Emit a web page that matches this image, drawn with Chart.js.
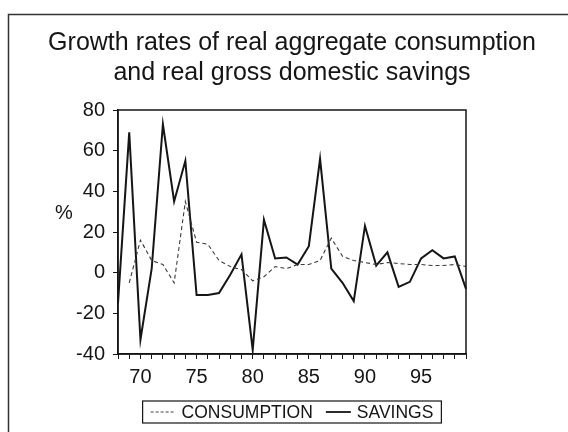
<!DOCTYPE html>
<html>
<head>
<meta charset="utf-8">
<script src="https://cdn.jsdelivr.net/npm/chart.js@4/dist/chart.umd.min.js"></script>
<style>
  html, body { margin: 0; padding: 0; background: #ffffff; }
  #wrap { position: relative; width: 568px; height: 432px; }
</style>
</head>
<body>
<div id="wrap"><canvas id="chart" width="568" height="432"></canvas></div>
<script>
// Years 1968-1999, shown as two-digit labels
const years = ['68','69','70','71','72','73','74','75','76','77','78','79','80','81','82','83',
               '84','85','86','87','88','89','90','91','92','93','94','95','96','97','98','99'];
// Growth rate of real aggregate consumption, % (no value for 1968)
const consumption = [null, -5, 16, 6, 4, -5, 35, 15, 14, 6, 3, 1.5, -4, -2, 3, 2,
                     4, 4, 6, 17, 8, 6, 5, 4, 5, 4.5, 4, 4, 3.5, 3.5, 4, 3];
// Growth rate of real gross domestic savings, %
const savings = [-15, 69, -33, 2, 73, 35, 55, -11, -11, -10, -1, 9, -38, 26, 7, 7.5,
                 4, 13, 56, 2, -5, -14, 23, 3.5, 10, -7, -4.5, 7, 11, 7, 8, -8];
// Labelled x ticks
const xTickLabels = ['70', '75', '80', '85', '90', '95'];
const titleLines = ['Growth rates of real aggregate consumption', 'and real gross domestic savings'];
const seriesNames = ['CONSUMPTION', 'SAVINGS'];

const FONT = "'Liberation Sans', Arial, sans-serif";
const INK = '#151515';

// Outer panel frame, plot box, "%" unit label and the boxed legend
const decorations = {
  id: 'decorations',
  afterDraw(chart) {
    const ctx = chart.ctx;
    const a = chart.chartArea;
    ctx.save();
    // outer frame (left and top edges visible)
    ctx.strokeStyle = '#333';
    ctx.lineWidth = 1.5;
    ctx.beginPath();
    ctx.moveTo(8.5, 440);
    ctx.lineTo(8.5, 14.5);
    ctx.lineTo(575, 14.5);
    ctx.stroke();
    // plot box
    ctx.strokeStyle = INK;
    ctx.lineWidth = 1.5;
    ctx.strokeRect(a.left, a.top, a.right - a.left, a.bottom - a.top);
    // unit label
    ctx.fillStyle = INK;
    ctx.font = '20px ' + FONT;
    ctx.textAlign = 'center';
    ctx.textBaseline = 'middle';
    ctx.fillText('%', 64, 213);
    // legend
    ctx.font = '17.5px ' + FONT;
    ctx.textAlign = 'left';
    const ds = chart.data.datasets;
    const w1 = ctx.measureText(ds[0].label).width;
    const w2 = ctx.measureText(ds[1].label).width;
    const sample = 25, gapText = 6, gapItem = 13, pad = 8;
    const content = sample + gapText + w1 + gapItem + sample + gapText + w2;
    const cx = (a.left + a.right) / 2;
    const boxL = cx - content / 2 - pad;
    const boxW = content + pad * 2;
    const boxT = 401, boxH = 22, midY = boxT + boxH / 2;
    ctx.strokeStyle = INK;
    ctx.lineWidth = 1.2;
    ctx.strokeRect(boxL, boxT, boxW, boxH);
    let x = boxL + pad;
    ctx.setLineDash([3, 2]);
    ctx.lineWidth = 1;
    ctx.strokeStyle = '#444';
    ctx.beginPath(); ctx.moveTo(x, midY); ctx.lineTo(x + sample, midY); ctx.stroke();
    ctx.setLineDash([]);
    x += sample + gapText;
    ctx.fillText(ds[0].label, x, midY + 1);
    x += w1 + gapItem;
    ctx.lineWidth = 1.8;
    ctx.strokeStyle = INK;
    ctx.beginPath(); ctx.moveTo(x, midY); ctx.lineTo(x + sample, midY); ctx.stroke();
    x += sample + gapText;
    ctx.fillText(ds[1].label, x, midY + 1);
    ctx.restore();
  }
};

new Chart(document.getElementById('chart'), {
  type: 'line',
  data: {
    labels: years,
    datasets: [
      {
        label: seriesNames[0],
        data: consumption,
        borderColor: '#3a3a3a',
        borderWidth: 1.1,
        borderDash: [4, 3],
        pointRadius: 0,
        tension: 0,
        fill: false
      },
      {
        label: seriesNames[1],
        data: savings,
        borderColor: INK,
        borderWidth: 2,
        pointRadius: 0,
        tension: 0,
        fill: false
      }
    ]
  },
  options: {
    responsive: false,
    animation: false,
    devicePixelRatio: 1,
    layout: { padding: { top: 28, left: 16, right: 0, bottom: 38 } },
    plugins: {
      legend: { display: false },
      tooltip: { enabled: false },
      title: {
        display: true,
        text: titleLines,
        color: INK,
        font: { family: FONT, size: 25, weight: 'normal', lineHeight: 1.2 },
        padding: { top: 0, bottom: 22 }
      }
    },
    scales: {
      x: {
        type: 'category',
        offset: false,
        afterFit(scale) { scale.height = 40; },
        border: { display: true, color: INK, width: 1.5 },
        grid: { display: true, drawOnChartArea: false, drawTicks: true, tickLength: 5, color: INK, lineWidth: 1, offset: false },
        ticks: {
          autoSkip: false,
          maxRotation: 0,
          padding: 6,
          color: INK,
          font: { family: FONT, size: 20 },
          callback(value) {
            const lab = this.getLabelForValue(value);
            return xTickLabels.includes(lab) ? lab : '';
          }
        }
      },
      y: {
        min: -40,
        max: 80,
        afterFit(scale) { scale.width = 102; },
        border: { display: true, color: INK, width: 1.5 },
        grid: { display: true, drawOnChartArea: false, drawTicks: true, tickLength: 5, color: INK, lineWidth: 1 },
        ticks: {
          stepSize: 20,
          padding: 8,
          color: INK,
          font: { family: FONT, size: 20 }
        }
      },
      // empty right-hand spacer that keeps the plot box in place
      yRight: {
        position: 'right',
        min: -40,
        max: 80,
        afterFit(scale) { scale.width = 102; },
        border: { display: false },
        grid: { display: false, drawTicks: false },
        ticks: { display: false }
      }
    }
  },
  plugins: [decorations]
});
</script>
</body>
</html>
